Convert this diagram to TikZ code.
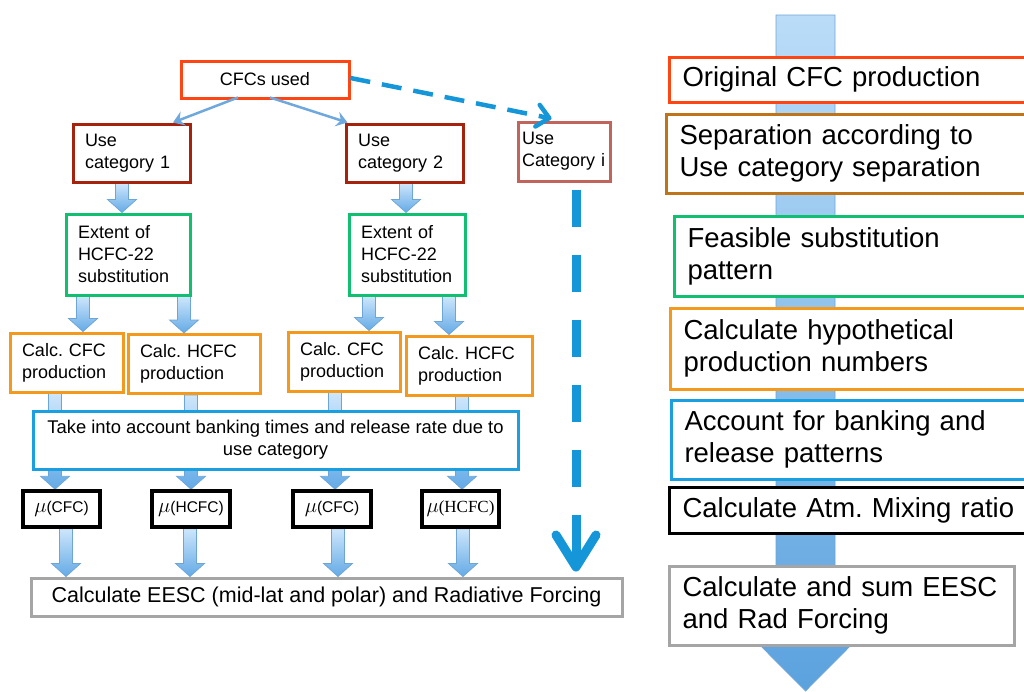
\documentclass[tikz,border=0pt]{standalone}
\usepackage{fontspec}
\setmainfont{Liberation Sans}
\newfontfamily\serifcfc{Liberation Serif}
\usepackage{xcolor}
\usetikzlibrary{arrows.meta,calc,positioning}
\definecolor{cfcred}{RGB}{255,69,20}
\definecolor{darkred}{RGB}{165,35,12}
\definecolor{rosered}{RGB}{192,100,92}
\definecolor{subgreen}{RGB}{16,192,112}
\definecolor{calcorange}{RGB}{243,154,30}
\definecolor{bankblue}{RGB}{26,160,224}
\definecolor{sepbrown}{RGB}{192,116,26}
\definecolor{eescgray}{RGB}{165,165,165}
\definecolor{dashblue}{RGB}{20,150,216}
\definecolor{thinblue}{RGB}{111,168,220}
\definecolor{arrowtop}{RGB}{205,230,251}
\definecolor{arrowbottom}{RGB}{100,170,230}
\definecolor{arrowedge}{RGB}{110,165,215}
\definecolor{bigtop}{RGB}{186,220,248}
\definecolor{bigbottom}{RGB}{91,162,222}
\pgfdeclarelayer{background}
\pgfsetlayers{background,main}
\frenchspacing
% mu labels of the mixing ratio boxes
\newcommand{\mutext}[1]{{\fontsize{20}{22}\selectfont$\mu$}{\fontsize{15.5}{18}\selectfont(#1)}}
\newcommand{\muserif}[1]{{\fontsize{20}{22}\selectfont$\mu$}{\serifcfc\fontsize{17}{18}\selectfont(#1)}}
% fat downward arrow from one box to the next, at a given x
\newcommand{\blockarrow}[3]{%
  \path[blockarrow] let \p1=(#2), \p2=(#3), \p3=(#1,0) in
    (\x3-6.5pt,\y1) -- (\x3+6.5pt,\y1) -- (\x3+6.5pt,\y2+13pt) -- (\x3+14.5pt,\y2+13pt)
    -- (\x3,\y2) -- (\x3-14.5pt,\y2+13pt) -- (\x3-6.5pt,\y2+13pt) -- cycle;}
\begin{document}
\begin{tikzpicture}[x=1pt, y=-1pt,
    box/.style={draw, fill=white, line width=3pt, inner xsep=12pt, inner ysep=0pt,
      font=\fontsize{18}{22}\selectfont, align=left},
    bigbox/.style={box, anchor=west, font=\fontsize{27.5}{32}\selectfont, inner xsep=13pt},
    mubox/.style={draw=black, fill=white, line width=3.5pt, inner sep=0pt, minimum height=36pt},
    thinarrow/.style={draw=thinblue, line width=2.5pt, -{Stealth[length=11pt,width=15pt,inset=4pt]}},
    dashflow/.style={draw=dashblue, line cap=butt},
    blockarrow/.style={draw=arrowedge, line width=0.7pt, top color=arrowtop, bottom color=arrowbottom},
  ]
  \useasboundingbox (0,0) rectangle (1024,691);
  \clip (0,0) rectangle (1024,691);
  % Draw the top node and the use categories
  \node[box, draw=cfcred, minimum width=168pt, minimum height=37pt] (cfc) at (265,79.5) {CFCs used};
  \node[box, draw=darkred, text width=93pt, minimum height=58pt] (use1) at (131.5,153) {Use\\category 1};
  \node[box, draw=darkred, text width=93pt, minimum height=58pt] (use2) at (404.5,153) {Use\\category 2};
  \node[box, draw=rosered, inner xsep=4pt, text width=84pt, minimum height=59pt] (usei) at (564,151.5) {Use\\Category i};
  % Draw the substitution boxes
  \node[box, draw=subgreen, text width=100pt, minimum height=81pt] (ext1) at (128,254.5) {Extent of\\HCFC-22\\substitution};
  \node[box, draw=subgreen, text width=92pt, minimum height=81pt] (ext2) at (407,254.5) {Extent of\\HCFC-22\\substitution};
  % Draw the production boxes
  \foreach \name/\xc/\yc/\w/\txt in {calc1a/66.5/362.5/89/{Calc. CFC}, calc1b/194/364/108/{Calc. HCFC},
      calc2a/344/361.5/88/{Calc. CFC}, calc2b/469/365.5/102/{Calc. HCFC}}
    \node[box, draw=calcorange, text width=\w pt, minimum height=59pt] (\name) at (\xc,\yc) {\txt\\production};
  \node[box, draw=bankblue, align=center, minimum width=485pt, minimum height=58pt,
    font=\fontsize{18.4}{22}\selectfont] (bank) at (275.5,440)
    {Take into account banking times and release rate due to\\use category};
  % Draw the mixing ratio boxes
  \foreach \name/\xc/\w/\txt in {mu1/61.5/77/{\mutext{CFC}}, mu2/191/78/{\mutext{HCFC}},
      mu3/332/78/{\mutext{CFC}}, mu4/460.5/77/{\muserif{HCFC}}}
    \node[mubox, minimum width=\w pt] (\name) at (\xc,509) {\txt};
  \node[box, draw=eescgray, align=center, minimum width=591pt, minimum height=38pt,
    font=\fontsize{21.5}{26}\selectfont] (eesc) at (326.5,597)
    {Calculate EESC (mid-lat and polar) and Radiative Forcing};
  % Draw the steps on the right
  \foreach \name/\xl/\yc/\h/\col/\txt in {step1/668/79.5/45/cfcred/{Original CFC production},
      step2/665/153.5/79/sepbrown/{Separation according to\\Use category separation},
      step3/673/256/80/subgreen/{Feasible substitution\\pattern},
      step4/669/348.5/81/calcorange/{Calculate hypothetical\\production numbers},
      step5/670/439.5/79/bankblue/{Account for banking and\\release patterns},
      step6/668/510/46/black/{Calculate Atm. Mixing ratio}}
    \node[bigbox, draw=\col, text width=346pt, minimum height=\h pt] (\name) at (\xl,\yc) {\txt};
  \node[bigbox, draw=eescgray, text width=319pt, minimum height=79pt] (step7) at (668,605.5)
    {Calculate and sum EESC\\and Rad Forcing};
  % Draw connecting arrows
  \draw[thinarrow] ([xshift=-27pt,yshift=2pt]cfc.south) -- ([xshift=41.5pt]use1.north);
  \draw[thinarrow] ([xshift=5pt,yshift=2pt]cfc.south) -- ([xshift=3pt]use2.north west);
  \draw[dashflow, line width=4.5pt, dash pattern=on 20pt off 12pt,
    -{Straight Barb[length=12pt,width=22pt,round]}] ([yshift=1.5pt]cfc.east) -- ([xshift=35pt,yshift=2pt]usei.north west);
  \coordinate (dropTop) at ([xshift=12pt,yshift=-7pt]usei.south);
  \draw[dashflow, line width=9pt, shorten >=5pt,
    dash pattern=on 37pt off 28pt on 37pt off 28pt on 37pt off 28pt on 37pt off 28pt on 37pt off 28pt on 80pt off 28pt,
    -{Straight Barb[length=32pt,width=40pt,round]}] (dropTop) -- (dropTop |- eesc.north);
  \begin{pgfonlayer}{background}
    % big arrow behind the steps
    \path[blockarrow, top color=bigtop, bottom color=bigbottom]
      (776,15) -- (835,15) -- (835,615) -- (881,615) -- (805.5,691) -- (730,615) -- (776,615) -- cycle;
    % block arrows between the boxes
    \blockarrow{122}{use1.south}{ext1.north}
    \blockarrow{406}{use2.south}{ext2.north}
    \foreach \pos/\src/\dst in {83/ext1/calc1a, 184/ext1/calc1b, 369/ext2/calc2a, 449/ext2/calc2b,
        55/calc1a/mu1, 191/calc1b/mu2, 335/calc2a/mu3, 462/calc2b/mu4}
      \blockarrow{\pos}{\src.south}{\dst.north};
    \foreach \pos/\src in {66/mu1, 190/mu2, 338/mu3, 463/mu4}
      \blockarrow{\pos}{\src.south}{\src.south |- eesc.north};
  \end{pgfonlayer}
\end{tikzpicture}
\end{document}
